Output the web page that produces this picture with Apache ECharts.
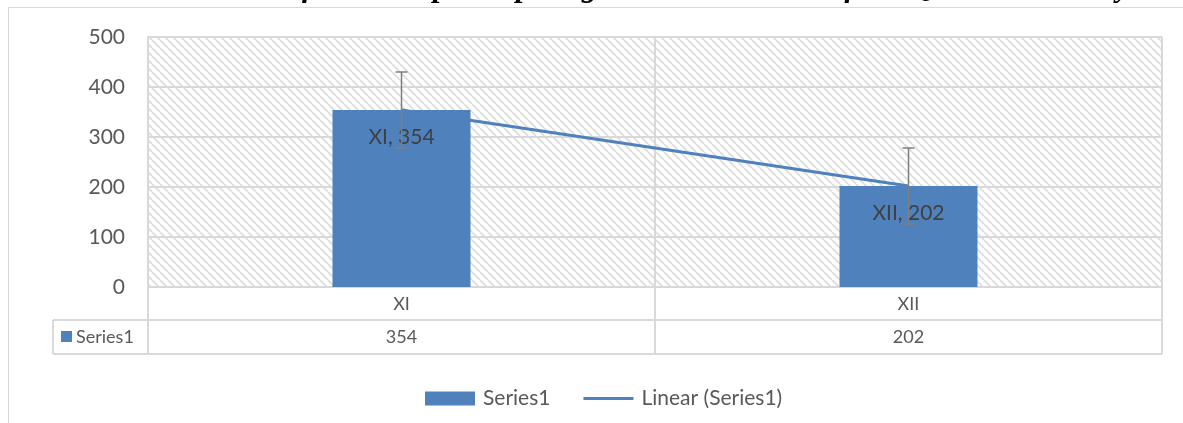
<!DOCTYPE html>
<html><head><meta charset="utf-8">
<script src="https://cdn.jsdelivr.net/npm/echarts@6/dist/echarts.min.js"></script>
<style>html,body{margin:0;padding:0;background:#fff}#c{width:1183px;height:423px}</style>
</head><body><div id="c"></div>
<script>
const titleText = 'Distribution of students participating in the evaluation of the Questionnaire by class';
const categories = ['XI', 'XII'];
const seriesName = 'Series1';
const barValues = [354, 202];
const trendName = 'Linear (Series1)';
const trendValues = [354, 202];
const errorAmounts = [76, 76];
const yTicks = [0, 100, 200, 300, 400, 500];

const W = 1183, H = 423;
const G = {left: 148, right: 21, top: 37, bottom: 136};
const FONT = 'Lato';
const GRID_C = '#d9d9d9';

// hatch pattern (downward diagonal)
const n = 8;
const pc = document.createElement('canvas'); pc.width = n; pc.height = n;
const ctx = pc.getContext('2d');
ctx.fillStyle = '#ffffff'; ctx.fillRect(0, 0, n, n);
ctx.strokeStyle = '#e0e0e0'; ctx.lineWidth = 2;
[-n, 0, n].forEach(k => { ctx.beginPath(); ctx.moveTo(k, 0); ctx.lineTo(k + n, n); ctx.stroke(); });

// title sizing: fit the clipped title's glyph span seen in the reference
const mc = document.createElement('canvas').getContext('2d');
const tFont = s => 'italic bold ' + s + 'px "Liberation Serif"';
mc.font = tFont(30);
const spanText = 'f students participating in the evaluation of the Questionnaire b';
const titleSize = Math.round(30 * 815 / mc.measureText(spanText).width * 10) / 10;
mc.font = tFont(titleSize);
const titleX = 302 - mc.measureText('Distribution o').width;

const chart = echarts.init(document.getElementById('c'), null, {renderer: 'canvas'});
chart.setOption({
  animation: false,
  backgroundColor: '#ffffff',
  grid: {left: G.left, right: G.right, top: G.top, bottom: G.bottom, show: true,
         backgroundColor: {image: pc, repeat: 'repeat'}, borderWidth: 0},
  legend: {
    data: [{name: seriesName, icon: 'rect'},
           {name: trendName, icon: 'path://M0,0L47,0L47,3L0,3Z'}],
    left: 420, top: 383, symbolKeepAspect: true,
    itemWidth: 50, itemHeight: 14, itemGap: 33,
    textStyle: {fontFamily: FONT, fontSize: 21, color: '#595959', padding: [0, 0, 0, 3]}
  },
  xAxis: {
    type: 'category', data: categories,
    axisLine: {lineStyle: {color: GRID_C, width: 2}},
    axisTick: {show: false},
    axisLabel: {fontFamily: FONT, fontSize: 18, color: '#595959', margin: 8},
    splitLine: {show: true, lineStyle: {color: GRID_C, width: 2}}
  },
  yAxis: {
    type: 'value', min: yTicks[0], max: yTicks[yTicks.length - 1], interval: yTicks[1] - yTicks[0],
    axisLine: {show: true, lineStyle: {color: GRID_C, width: 2}},
    axisTick: {show: false},
    axisLabel: {fontFamily: FONT, fontSize: 21, color: '#595959', margin: 23},
    splitLine: {show: true, lineStyle: {color: GRID_C, width: 2}}
  },
  series: [
    {
      name: seriesName, type: 'bar', data: barValues, barWidth: 138, z: 2,
      itemStyle: {color: '#4f81bd'},
      label: {show: true, position: 'insideTop', distance: 17, formatter: '{b}, {c}',
              fontFamily: FONT, fontSize: 21, color: '#404040'}
    },
    {
      name: trendName, type: 'line', data: trendValues, symbol: 'none', showSymbol: false, z: 3,
      lineStyle: {color: '#4f81bd', width: 3}, itemStyle: {color: '#4f81bd'}
    },
    {
      name: 'err', type: 'custom', z: 4,
      data: categories.map((c, i) => [i, barValues[i] - errorAmounts[i], barValues[i] + errorAmounts[i]]),
      encode: {x: 0, y: [1, 2]},
      renderItem: function (params, api) {
        const x = api.value(0);
        const lo = api.coord([x, api.value(1)]);
        const hi = api.coord([x, api.value(2)]);
        const hw = 6;
        const st = {stroke: '#7f7f7f', lineWidth: 1.5};
        return {type: 'group', children: [
          {type: 'line', shape: {x1: lo[0], y1: lo[1], x2: hi[0], y2: hi[1]}, style: st},
          {type: 'line', shape: {x1: hi[0] - hw, y1: hi[1], x2: hi[0] + hw, y2: hi[1]}, style: st},
          {type: 'line', shape: {x1: lo[0] - hw, y1: lo[1], x2: lo[0] + hw, y2: lo[1]}, style: st}
        ]};
      }
    }
  ]
});

// data table + frame + title
const xs = categories.map((c, i) => chart.convertToPixel({xAxisIndex: 0}, i));
const bw = xs.length > 1 ? xs[1] - xs[0] : (W - G.left - G.right);
const bounds = [xs[0] - bw / 2].concat(xs.map(x => x + bw / 2));
const axisY = H - G.bottom, rightX = W - G.right;
const rowTop = 320, rowBot = 354, cellLeft = 53;
const ln = (x1, y1, x2, y2) => ({type: 'line', silent: true, z: 10,
  shape: {x1, y1, x2, y2}, style: {stroke: GRID_C, lineWidth: 2}});
const els = [];
els.push({type: 'rect', silent: true, z: 0, shape: {x: 8.5, y: 7.5, width: 1400, height: 700},
          style: {fill: 'none', stroke: GRID_C, lineWidth: 1}});
els.push({type: 'text', silent: true, z: 10, x: titleX, y: 4,
          style: {text: titleText, fontFamily: 'Liberation Serif', fontStyle: 'italic', fontWeight: 'bold',
                  fontSize: titleSize, fill: '#000', verticalAlign: 'bottom', align: 'left',
                  lineHeight: titleSize}});
els.push(ln(cellLeft, rowTop, rightX, rowTop));
els.push(ln(cellLeft, rowBot, rightX, rowBot));
els.push(ln(cellLeft, rowTop, cellLeft, rowBot));
bounds.forEach(b => els.push(ln(b, axisY, b, rowBot)));
const rowMid = (rowTop + rowBot) / 2;
els.push({type: 'rect', silent: true, z: 10, shape: {x: 61, y: rowMid - 6, width: 11, height: 11},
          style: {fill: '#4f81bd'}});
els.push({type: 'text', silent: true, z: 10, x: 76, y: rowMid,
          style: {text: seriesName, fontFamily: FONT, fontSize: 18, fill: '#595959', verticalAlign: 'middle'}});
xs.forEach((x, i) => els.push({type: 'text', silent: true, z: 10, x: x, y: rowMid,
  style: {text: String(barValues[i]), fontFamily: FONT, fontSize: 18, fill: '#595959',
          align: 'center', verticalAlign: 'middle'}}));
chart.setOption({graphic: {elements: els}});
</script>
</body></html>
